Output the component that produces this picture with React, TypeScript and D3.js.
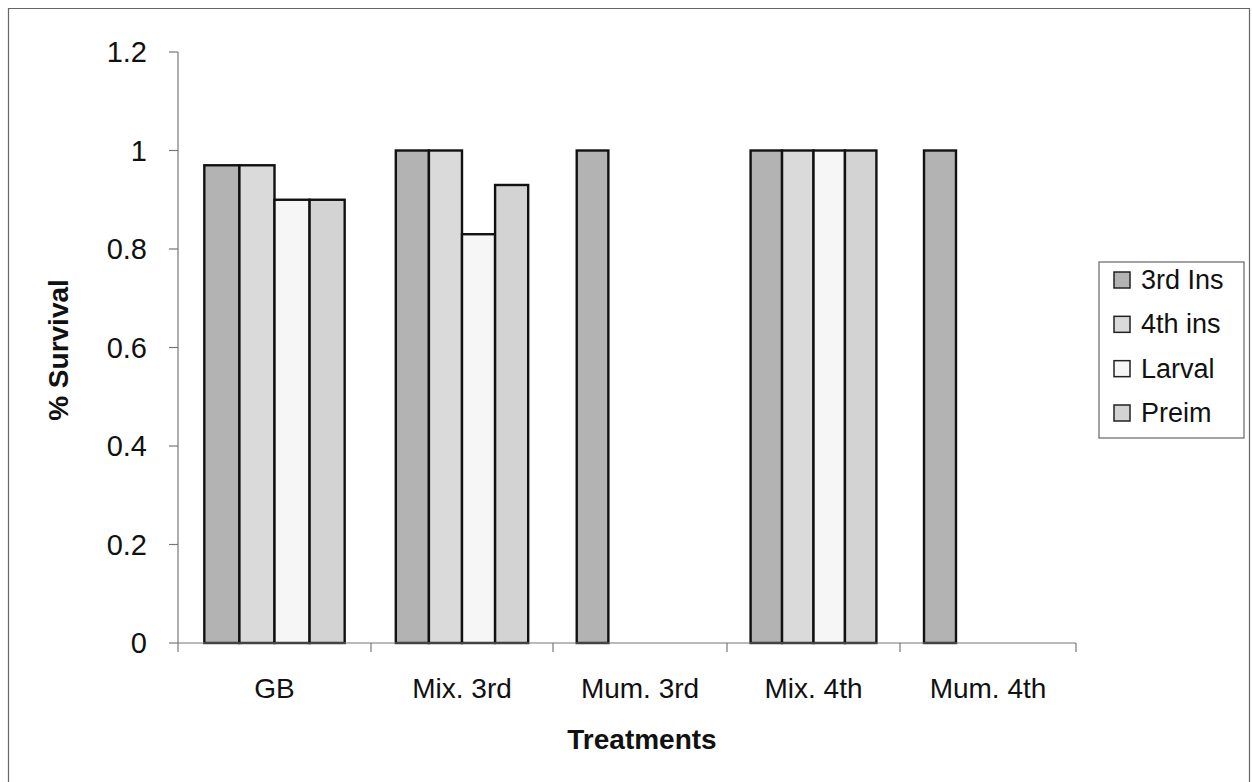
import React from "react";
import * as d3 from "d3";

// Survival proportions per treatment and life stage
const treatments = ["GB", "Mix. 3rd", "Mum. 3rd", "Mix. 4th", "Mum. 4th"];
const stages = ["3rd Ins", "4th ins", "Larval", "Preim"];
const thirdIns = [0.97, 1, 1, 1, 1];
const fourthIns = [0.97, 1, 0, 1, 0];
const larval = [0.9, 0.83, 0, 1, 0];
const preim = [0.9, 0.93, 0, 1, 0];
const yTicks = [0, 0.2, 0.4, 0.6, 0.8, 1, 1.2];
const yTickLabels = ["0", "0.2", "0.4", "0.6", "0.8", "1", "1.2"];

const seriesValues = [thirdIns, fourthIns, larval, preim];
const fills = ["#b3b3b3", "#dadada", "#f6f6f6", "#d3d3d3"];

const W = 1252;
const H = 782;
const FONT = "'Liberation Sans', Arial, sans-serif";

// Category boundaries along the x axis (slightly uneven spacing, as printed)
const xBoundaries = [178, 371, 553, 727, 900, 1076];
const plotTop = 52;
const plotBottom = 643;

export default function App() {
  const xEdge = d3
    .scaleLinear()
    .domain(d3.range(treatments.length + 1))
    .range(xBoundaries);
  const y = d3.scaleLinear().domain([0, 1.2]).range([plotBottom, plotTop]);

  const axisX0 = xEdge(0);
  const axisX1 = xEdge(treatments.length);

  const bars: React.ReactNode[] = [];
  treatments.forEach((t, i) => {
    const inner = d3
      .scaleBand<string>()
      .domain(stages)
      .range([xEdge(i), xEdge(i + 1)])
      .paddingInner(0)
      .paddingOuter(0.75);
    stages.forEach((s, j) => {
      const v = seriesValues[j][i];
      if (!v) return;
      const x = inner(s)!;
      bars.push(
        <rect
          key={`${t}-${s}`}
          x={x}
          y={y(v)}
          width={inner.bandwidth()}
          height={y(0) - y(v)}
          fill={fills[j]}
          stroke="#111"
          strokeWidth={2.4}
        />
      );
    });
  });

  const legendX = 1099;
  const legendY = 262;
  const legendW = 145;
  const legendH = 176;
  const rowY = d3.scaleLinear().domain([0, 3]).range([legendY + 18, legendY + 151]);

  return (
    <svg
      width={W}
      height={H}
      style={{ position: "absolute", left: 0, top: 0, background: "#fff" }}
      fontFamily={FONT}
    >
      <rect x={0} y={0} width={W} height={H} fill="#fff" />
      {/* chart area frame */}
      <path
        d={`M8.5,${H} V8.5 H1249.5 V${H}`}
        fill="none"
        stroke="#666"
        strokeWidth={1.2}
      />

      {/* y axis */}
      <line x1={axisX0} x2={axisX0} y1={plotTop} y2={plotBottom} stroke="#777" strokeWidth={1.2} />
      {yTicks.map((v, i) => (
        <g key={v}>
          <line x1={axisX0 - 9} x2={axisX0} y1={y(v)} y2={y(v)} stroke="#777" strokeWidth={1.2} />
          <text
            x={147}
            y={y(v)}
            textAnchor="end"
            dominantBaseline="central"
            fontSize={29}
            fill="#111"
          >
            {yTickLabels[i]}
          </text>
        </g>
      ))}

      {bars}

      {/* x axis */}
      <line x1={axisX0} x2={axisX1} y1={plotBottom} y2={plotBottom} stroke="#777" strokeWidth={1.2} />
      {d3.range(treatments.length + 1).map((i) => (
        <line
          key={i}
          x1={xEdge(i)}
          x2={xEdge(i)}
          y1={plotBottom}
          y2={plotBottom + 9}
          stroke="#777"
          strokeWidth={1.2}
        />
      ))}
      {treatments.map((t, i) => (
        <text
          key={t}
          x={(xEdge(i) + xEdge(i + 1)) / 2}
          y={698}
          textAnchor="middle"
          fontSize={28}
          fill="#111"
        >
          {t}
        </text>
      ))}

      {/* axis titles */}
      <text x={642} y={749} textAnchor="middle" fontSize={28} fontWeight="bold" fill="#111">
        Treatments
      </text>
      <text
        transform={`translate(68,350) rotate(-90)`}
        textAnchor="middle"
        fontSize={28}
        fontWeight="bold"
        fill="#111"
      >
        % Survival
      </text>

      {/* legend */}
      <rect
        x={legendX}
        y={legendY}
        width={legendW}
        height={legendH}
        fill="#fff"
        stroke="#666"
        strokeWidth={1.2}
      />
      {stages.map((s, j) => (
        <g key={s}>
          <rect
            x={1114}
            y={rowY(j) - 8}
            width={16}
            height={16}
            fill={fills[j]}
            stroke="#222"
            strokeWidth={1.5}
          />
          <text x={1141} y={rowY(j)} dominantBaseline="central" fontSize={27} fill="#111">
            {s}
          </text>
        </g>
      ))}
    </svg>
  );
}
